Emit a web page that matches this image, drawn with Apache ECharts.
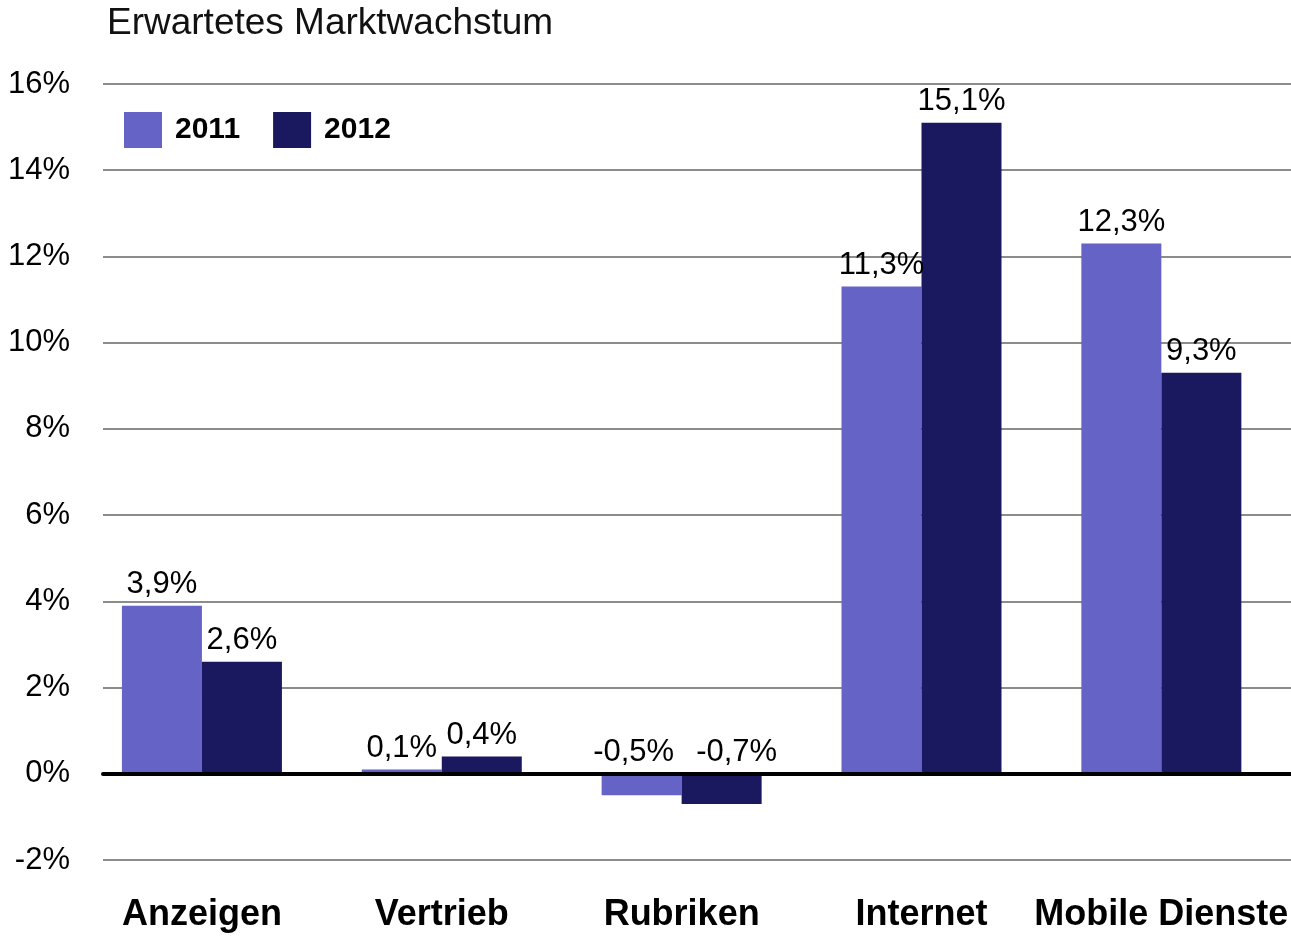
<!DOCTYPE html>
<html>
<head>
<meta charset="utf-8">
<script src="https://cdn.jsdelivr.net/npm/echarts@6/dist/echarts.min.js"></script>
<style>
  html, body { margin: 0; padding: 0; background: #fff; }
  #chart { width: 1291px; height: 939px; }
</style>
</head>
<body>
<div id="chart"></div>
<script>
const categories = ['Anzeigen', 'Vertrieb', 'Rubriken', 'Internet', 'Mobile Dienste']
const values2011 = [3.9, 0.1, -0.5, 11.3, 12.3]
const values2012 = [2.6, 0.4, -0.7, 15.1, 9.3]
const seriesNames = ['2011', '2012']
const yMin = -2
const yMax = 16
const yStep = 2

const font = 'Liberation Sans, Arial, sans-serif'
const fmtPct = v => v.toFixed(1).replace('.', ',') + '%'

const chart = echarts.init(document.getElementById('chart'))

const barLabel = {
    show: true,
    position: 'top',
    distance: 6,
    color: '#000',
    fontSize: 31,
    fontFamily: font,
    formatter: p => fmtPct(p.value)
}

// negative labels sit above the zero line, pushed apart a little so they don't touch
const withNegShift = (arr, dx) => arr.map(v => v < 0 ? { value: v, label: { offset: [dx, 0] } } : v)

const option = {
    animation: false,
    title: {
        text: 'Erwartetes Marktwachstum',
        left: 107,
        top: 5,
        padding: 0,
        textStyle: { fontSize: 37, fontWeight: 'normal', color: '#111', fontFamily: font }
    },
    legend: {
        left: 124,
        top: 112,
        padding: 0,
        itemWidth: 38,
        itemHeight: 36,
        itemGap: 33,
        icon: 'rect',
        data: seriesNames,
        textStyle: { fontSize: 30, fontWeight: 'bold', color: '#000', fontFamily: font, padding: [8, 0, 0, 8] }
    },
    grid: [
        // gridlines + y labels
        { left: 103, right: 0, top: 84, bottom: 79 },
        // bars
        { left: 82, right: 6, top: 84, bottom: 79 }
    ],
    xAxis: [
        {
            gridIndex: 0,
            type: 'value',
            min: 0,
            max: 1,
            axisLabel: { show: false },
            axisTick: { show: false },
            splitLine: { show: false },
            axisLine: { show: true, onZero: true, lineStyle: { color: '#000', width: 4 } },
            z: 5
        },
        {
            gridIndex: 1,
            type: 'category',
            data: categories,
            axisLine: { show: false, onZero: false },
            axisTick: { show: false },
            axisLabel: {
                margin: 37,
                color: '#000',
                fontSize: 36,
                fontWeight: 'bold',
                fontFamily: font,
                interval: 0
            }
        }
    ],
    yAxis: [
        {
            gridIndex: 0,
            type: 'value',
            min: yMin,
            max: yMax,
            interval: yStep,
            axisLine: { show: false },
            axisTick: { show: false },
            axisLabel: {
                margin: 33,
                color: '#000',
                fontSize: 31,
                fontFamily: font,
                verticalAlign: 'middle',
                padding: [10, 0, 0, 0],
                formatter: v => v + '%'
            },
            splitLine: { show: true, lineStyle: { color: '#8c8c8c', width: 2 } }
        },
        {
            gridIndex: 1,
            type: 'value',
            min: yMin,
            max: yMax,
            interval: yStep,
            show: false,
            splitLine: { show: false }
        }
    ],
    series: [
        {
            name: seriesNames[0],
            type: 'bar',
            xAxisIndex: 1,
            yAxisIndex: 1,
            data: withNegShift(values2011, -8),
            barWidth: 80,
            barGap: '0%',
            itemStyle: { color: '#6563c5' },
            label: barLabel,
            z: 3
        },
        {
            name: seriesNames[1],
            type: 'bar',
            xAxisIndex: 1,
            yAxisIndex: 1,
            data: withNegShift(values2012, 15),
            barWidth: 80,
            barGap: '0%',
            itemStyle: { color: '#1a1960' },
            label: barLabel,
            z: 3
        }
    ]
}

chart.setOption(option)
</script>
</body>
</html>
